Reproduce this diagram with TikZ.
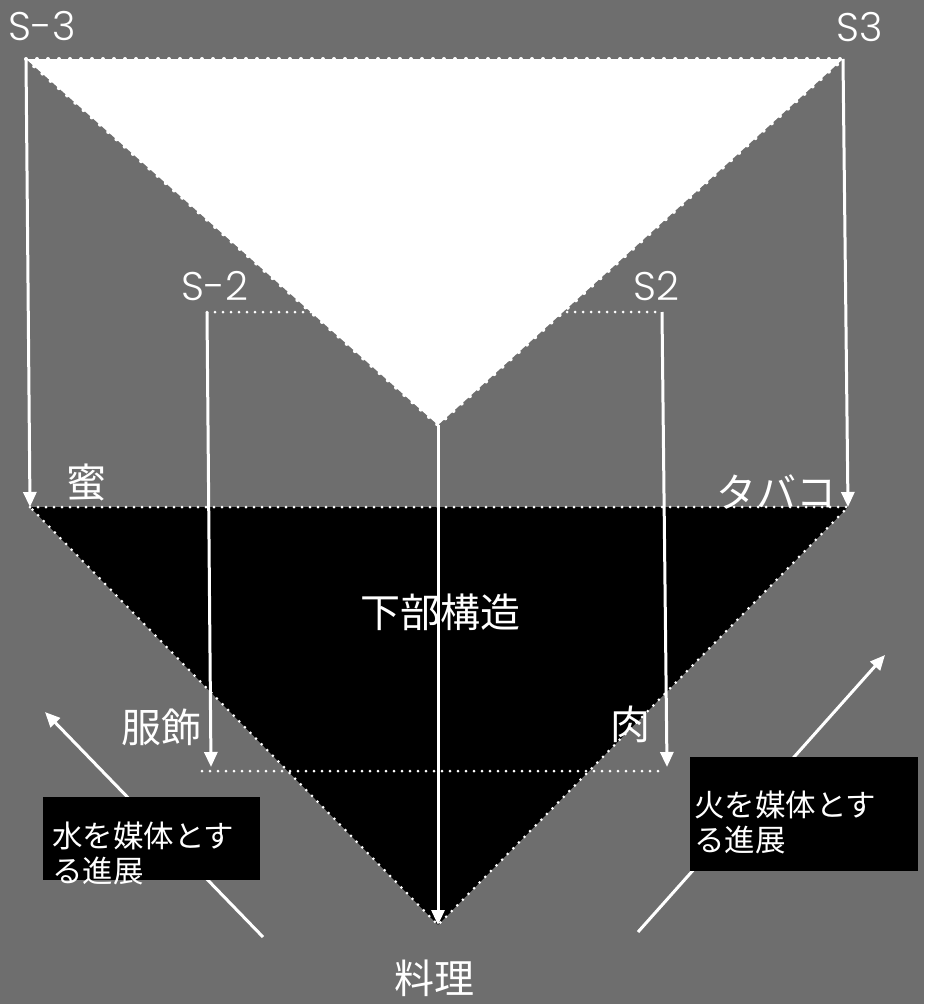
\documentclass[tikz,border=0pt]{standalone}
\usepackage{fontspec}
\setmainfont{Poppins}[UprightFont={* Light}]
\newfontfamily\jp{Noto Sans CJK JP}
\usetikzlibrary{arrows.meta}
\definecolor{bg}{RGB}{110,110,110}
\begin{document}
\begin{tikzpicture}[x=1pt,y=-1pt,
  arr/.style={draw=white, line width=3pt, -{Triangle[length=15pt,width=13pt]}},
  bigdots/.style={draw=white, line width=4pt, line cap=round, dash pattern=on 0pt off 11pt},
  smalldots/.style={draw=white, line width=3pt, line cap=round, dash pattern=on 0pt off 8pt},
  lat/.style={text=white, font=\fontsize{40}{40}\selectfont, inner sep=0pt},
  jlab/.style={text=white, font=\jp\fontsize{40}{40}\selectfont, inner sep=0pt},
  boxbg/.style={fill=black, inner sep=0pt, anchor=north west},
  boxtxt/.style={text=white, font=\jp\fontsize{30.5}{35}\selectfont, align=left, anchor=west, inner sep=0pt}
]
\fill[bg] (0,0) rectangle (924,1004);
\useasboundingbox (0,0) rectangle (924,1004);
% vertices
\coordinate (TL) at (26,59);
\coordinate (TR) at (843,59);
\coordinate (TA) at (438,425);
\coordinate (BL) at (30,507);
\coordinate (BR) at (848,507);
\coordinate (BA) at (438,925);
\coordinate (L2t) at (207,312);
\coordinate (R2t) at (662,312);
\coordinate (L2b) at (211,767);
\coordinate (R2b) at (667,767);
\coordinate (D2l) at (202,771);
\coordinate (D2r) at (662,771);
\coordinate (WS) at (263,937);
\coordinate (WE) at (45,712);
\coordinate (FS) at (638,932);
\coordinate (FE) at (885,655);
% S2 level dotted line (behind white triangle)
\draw[smalldots] (L2t) -- (R2t);
% upper white triangle
\fill[white] (TL) -- (TR) -- (TA) -- cycle;
\draw[bigdots] (TL) -- (TR) -- (TA) -- cycle;
% lower black triangle
\fill[black] (BL) -- (BR) -- (BA) -- cycle;
\draw[smalldots] (BL) -- (BR) -- (BA) -- cycle;
% lower dotted line
\draw[smalldots] (D2l) -- (D2r);
% vertical arrows
\draw[arr] (TL) -- (BL);
\draw[arr] (TR) -- (BR);
\draw[arr] (TA) -- (BA);
\draw[arr] (L2t) -- (L2b);
\draw[arr] (R2t) -- (R2b);
% diagonal arrows
\draw[arr] (WS) -- (WE);
\draw[arr] (FS) -- (FE);
% boxes
\node[boxbg, minimum width=217pt, minimum height=83pt] (wbox) at (43,797) {};
\node[boxtxt] (wtxt) at (52,853) {水を媒体とす\\る進展};
\node[boxbg, minimum width=228pt, minimum height=114pt] (fbox) at (690,757) {};
\node[boxtxt] (ftxt) at (694,822) {火を媒体とす\\る進展};
% labels
\node[lat] (s-3) at (42,26) {S-3};
\node[lat] (s3) at (860,27) {S3};
\node[lat] (s-2) at (215,286) {S-2};
\node[lat] (s2) at (656,286) {S2};
\node[jlab] (mitsu) at (86,482) {蜜};
\node[jlab] (tabako) at (776,492) {タバコ};
\node[jlab] (kabu) at (440,612) {下部構造};
\node[jlab] (fuku) at (161,727) {服飾};
\node[jlab] (niku) at (630,724) {肉};
\node[jlab] (ryori) at (434,978) {料理};
\end{tikzpicture}
\end{document}
